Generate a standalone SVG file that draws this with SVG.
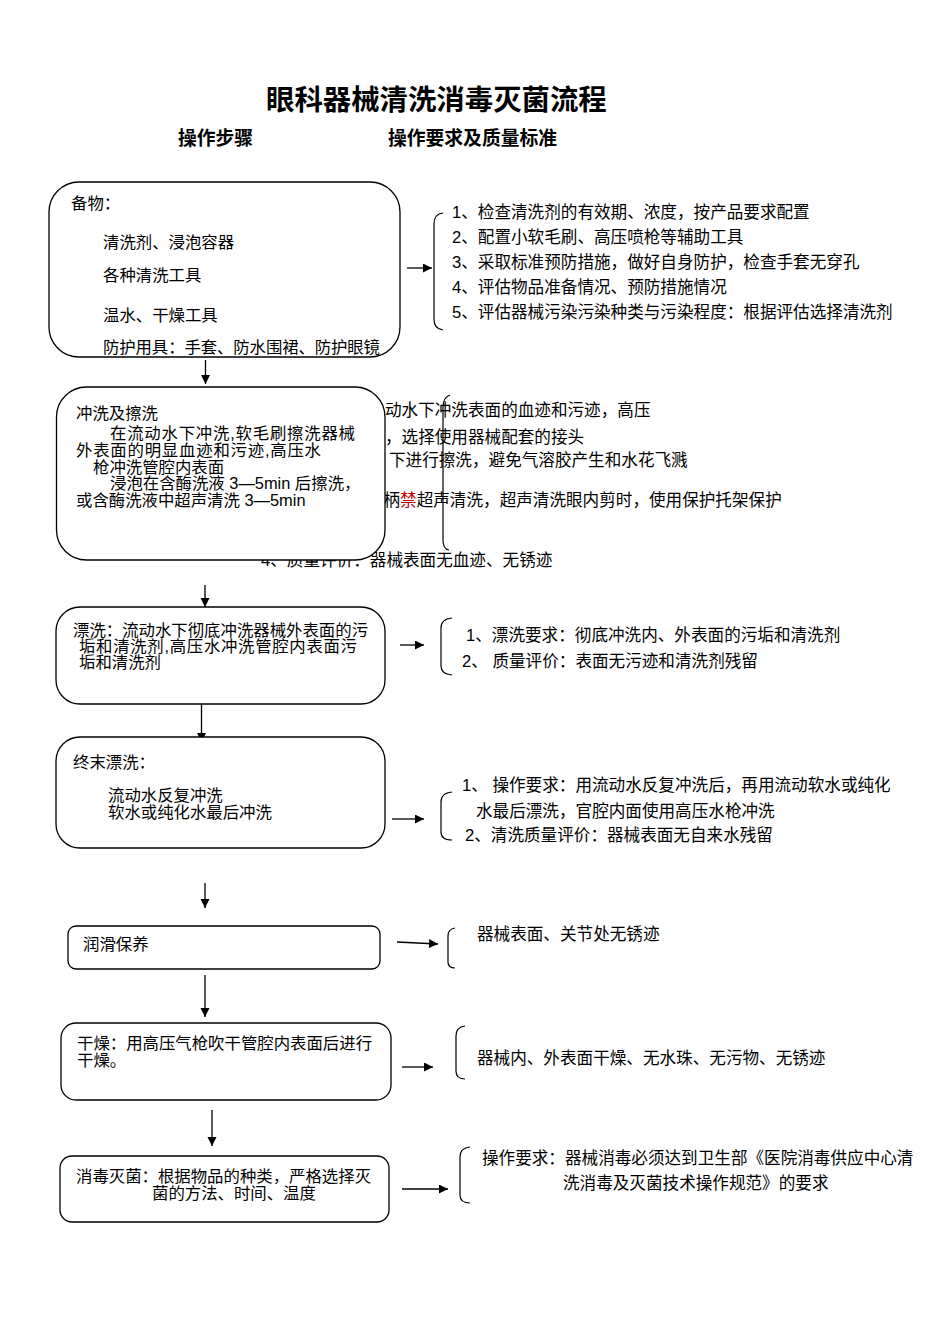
<svg xmlns="http://www.w3.org/2000/svg" width="950" height="1344" viewBox="0 0 950 1344">
<style>
.t{font-family:"Liberation Sans","Noto Sans CJK SC",sans-serif;font-size:16.4px;fill:#000}
.r{font-family:"Liberation Sans","Noto Sans CJK SC",sans-serif;font-size:16.6px;fill:#000}
.h{font-family:"Liberation Sans","Noto Sans CJK SC",sans-serif;font-weight:bold;fill:#000}
.box{fill:#fff;stroke:#000;stroke-width:1.3}
.br{fill:none;stroke:#000;stroke-width:1.2}
.ln{fill:none;stroke:#000;stroke-width:1.3;marker-end:url(#ah)}
.red{fill:#c00000}
</style>
<defs>
<marker id="ah" markerUnits="userSpaceOnUse" markerWidth="10" markerHeight="10" refX="9" refY="4.5" orient="auto">
<path d="M0,0 L9,4.5 L0,9 z" fill="#000"/>
</marker>
</defs>
<rect width="950" height="1344" fill="#fff"/>

<g id="title">
<text class="h" x="266" y="110" style="font-size:28.4px">眼科器械清洗消毒灭菌流程</text>
<text class="h" x="178" y="145" style="font-size:18.8px">操作步骤</text>
<text class="h" x="388" y="145" style="font-size:18.8px">操作要求及质量标准</text>
</g>

<g id="req1">
<path class="br" d="M443,213 Q434,214 434,224 L434,319 Q434,329 443,330"/>
<text class="r" x="452" y="218">1、检查清洗剂的有效期、浓度，按产品要求配置</text>
<text class="r" x="452" y="243">2、配置小软毛刷、高压喷枪等辅助工具</text>
<text class="r" x="452" y="268">3、采取标准预防措施，做好自身防护，检查手套无穿孔</text>
<text class="r" x="452" y="293">4、评估物品准备情况、预防措施情况</text>
<text class="r" x="452" y="318">5、评估器械污染污染种类与污染程度：根据评估选择清洗剂</text>
</g>

<g id="req2">
<path class="br" d="M450,395 Q443,397 443,408 L443,540 Q443,549 449,550"/>
<text class="r" x="385" y="416">动水下冲洗表面的血迹和污迹，高压</text>
<text class="r" x="385" y="443">，选择使用器械配套的接头</text>
<text class="r" x="389" y="466">下进行擦洗，避免气溶胶产生和水花飞溅</text>
<text class="r" x="383.5" y="506">柄<tspan class="red">禁</tspan>超声清洗，超声清洗眼内剪时，使用保护托架保护</text>
<text class="r" x="261" y="566">4、质量评价：器械表面无血迹、无锈迹</text>
</g>

<g id="req3">
<path class="br" d="M452,618 Q441,619 441,628 L441,666 Q441,674 452,675"/>
<text class="r" x="466" y="641">1、漂洗要求：彻底冲洗内、外表面的污垢和清洗剂</text>
<text class="r" x="462" y="667">2、 质量评价：表面无污迹和清洗剂残留</text>
</g>

<g id="req4">
<path class="br" d="M452,792 Q441,793 441,802 L441,832 Q441,840 452,840"/>
<text class="r" x="462" y="791">1、 操作要求：用流动水反复冲洗后，再用流动软水或纯化</text>
<text class="r" x="476" y="817">水最后漂洗，官腔内面使用高压水枪冲洗</text>
<text class="r" x="465" y="841">2、清洗质量评价：器械表面无自来水残留</text>
</g>

<g id="req5">
<path class="br" d="M455,928 Q448,929 448,936 L448,962 Q448,968 455,968"/>
<text class="r" x="477" y="940">器械表面、关节处无锈迹</text>
</g>

<g id="req6">
<path class="br" d="M465,1026 Q456,1027 456,1036 L456,1071 Q456,1079 465,1079"/>
<text class="r" x="477" y="1064">器械内、外表面干燥、无水珠、无污物、无锈迹</text>
</g>

<g id="req7">
<path class="br" d="M470,1147 Q460,1148 460,1157 L460,1195 Q460,1203 470,1203"/>
<text class="r" x="482" y="1164">操作要求：器械消毒必须达到卫生部《医院消毒供应中心清</text>
<text class="r" x="563" y="1189">洗消毒及灭菌技术操作规范》的要求</text>
</g>

<g id="connectors">
<path class="ln" d="M407,268 L432,268"/>
<path class="ln" d="M205.5,360 L205.5,384"/>
<path class="ln" d="M205,585 L205,607"/>
<path class="ln" d="M400,645 L424,645"/>
<path class="ln" d="M201.5,704 L201.5,742"/>
<path class="ln" d="M392,819 L424,819"/>
<path class="ln" d="M205,883 L205,908"/>
<path class="ln" d="M397,942 L438,944"/>
<path class="ln" d="M205,975 L205,1017"/>
<path class="ln" d="M402,1067 L433,1067"/>
<path class="ln" d="M212,1110 L212,1146"/>
<path class="ln" d="M402,1189 L448,1189"/>
</g>

<g id="step1">
<rect class="box" x="49" y="182" width="351" height="175" rx="30"/>
<text class="t" x="71" y="209">备物：</text>
<text class="t" x="103" y="248">清洗剂、浸泡容器</text>
<text class="t" x="103" y="281">各种清洗工具</text>
<text class="t" x="103" y="321">温水、干燥工具</text>
<text class="t" x="103" y="353" textLength="277" lengthAdjust="spacing">防护用具：手套、防水围裙、防护眼镜</text>
</g>

<g id="step2">
<rect class="box" x="56.5" y="387" width="328.5" height="173" rx="30"/>
<text class="t" x="76" y="419">冲洗及擦洗</text>
<text class="t" x="110" y="439" textLength="245" lengthAdjust="spacing">在流动水下冲洗,软毛刷擦洗器械</text>
<text class="t" x="76" y="456" textLength="245" lengthAdjust="spacing">外表面的明显血迹和污迹,高压水</text>
<text class="t" x="93" y="473">枪冲洗管腔内表面</text>
<text class="t" x="110" y="489">浸泡在含酶洗液 3—5min 后擦洗，</text>
<text class="t" x="76" y="506">或含酶洗液中超声清洗 3—5min</text>
</g>

<g id="step3">
<rect class="box" x="56" y="607" width="329" height="97" rx="24"/>
<text class="t" x="73" y="636">漂洗：流动水下彻底冲洗器械外表面的污</text>
<text class="t" x="79" y="652" textLength="278" lengthAdjust="spacing">垢和清洗剂,高压水冲洗管腔内表面污</text>
<text class="t" x="79" y="668">垢和清洗剂</text>
</g>

<g id="step4">
<rect class="box" x="56" y="737" width="329" height="111" rx="24"/>
<text class="t" x="73" y="768">终末漂洗：</text>
<text class="t" x="108" y="801">流动水反复冲洗</text>
<text class="t" x="108" y="818">软水或纯化水最后冲洗</text>
</g>

<g id="step5">
<rect class="box" x="68" y="926" width="312" height="43" rx="8"/>
<text class="t" x="83" y="950">润滑保养</text>
</g>

<g id="step6">
<rect class="box" x="61" y="1023" width="330" height="77" rx="15"/>
<text class="t" x="77" y="1049">干燥：用高压气枪吹干管腔内表面后进行</text>
<text class="t" x="77" y="1066">干燥。</text>
</g>

<g id="step7">
<rect class="box" x="60" y="1156" width="329" height="66" rx="12"/>
<text class="t" x="76" y="1182">消毒灭菌：根据物品的种类，严格选择灭</text>
<text class="t" x="152" y="1199">菌的方法、时间、温度</text>
</g>
</svg>
